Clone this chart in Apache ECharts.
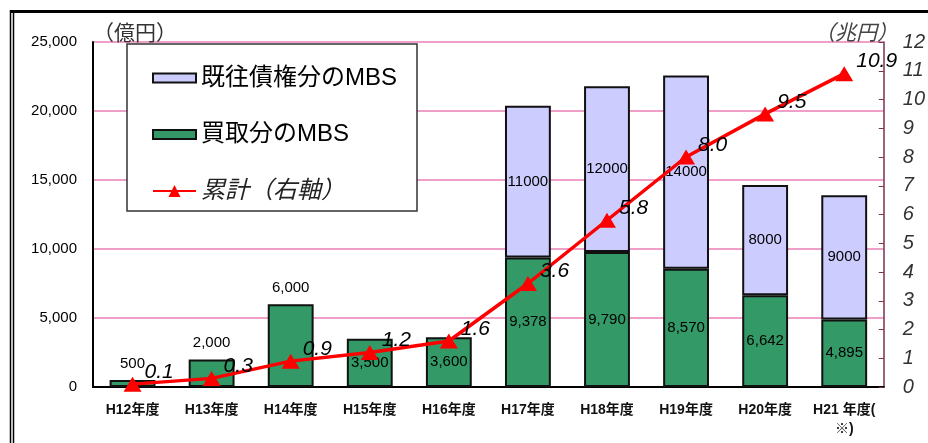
<!DOCTYPE html>
<html><head><meta charset="utf-8">
<script src="https://cdn.jsdelivr.net/npm/echarts@6/dist/echarts.min.js"></script>
<style>html,body{margin:0;padding:0;background:#fff}#c{width:928px;height:443px}</style>
</head><body><div id="c"></div>
<script>
const categories = ['H12年度','H13年度','H14年度','H15年度','H16年度','H17年度','H18年度','H19年度','H20年度','H21 年度(\n※)'];
const kaitori = [500, 2000, 6000, 3500, 3600, 9378, 9790, 8570, 6642, 4895];
const kiou = [0, 0, 0, 0, 0, 11000, 12000, 14000, 8000, 9000];
const ruikei = [0.1, 0.3, 0.9, 1.2, 1.6, 3.6, 5.8, 8.0, 9.5, 10.9];
const leftTicks = {min: 0, max: 25000, interval: 5000};
const rightTicks = {min: 0, max: 12, interval: 1};
const names = {kiou: '既往債権分のMBS', kaitori: '買取分のMBS', ruikei: '累計（右軸）'};

const FONT = "'Liberation Sans', 'Noto Sans CJK JP', sans-serif";
const chart = echarts.init(document.getElementById('c'));
const fmt = v => v.toLocaleString('en-US');

const kaitoriData = kaitori.map((v, i) => i < 3
  ? {value: v, label: {position: 'top', distance: 9}}
  : v);
const kiouData = kiou.map(v => v === 0 ? '-' : v);
const swatch = 'path://M0,0L43,0L43,9L0,9Z';

chart.setOption({
  animation: false,
  backgroundColor: '#fff',
  textStyle: {fontFamily: FONT},
  grid: {left: 93, right: 41, top: 42, bottom: 56},
  graphic: [
    {type: 'rect', z: 0, shape: {x: 10, y: 10, width: 918, height: 3}, style: {fill: '#000'}},
    {type: 'line', z: 0, shape: {x1: 10.5, y1: 10, x2: 10.5, y2: 443}, style: {stroke: '#000', lineWidth: 1.5}},
    {type: 'line', z: 0, shape: {x1: 13.5, y1: 13, x2: 13.5, y2: 443}, style: {stroke: '#000', lineWidth: 1.5}},
    {type: 'rect', z: 3, shape: {x: 127, y: 44, width: 290, height: 167}, style: {fill: '#fff', stroke: '#333', lineWidth: 1.5}},
    {type: 'text', z: 3, left: 93, top: 22, style: {text: '（億円）', fill: '#333', font: "21px 'Noto Sans CJK JP', sans-serif"}},
    {type: 'text', z: 3, left: 814, top: 22, style: {text: '（兆円）', fill: '#444', font: "italic 21px 'Noto Sans CJK JP', sans-serif"}}
  ],
  legend: {
    orient: 'vertical', left: 147, top: 59, z: 5,
    itemWidth: 43, itemHeight: 15, itemGap: 28.5,
    symbolKeepAspect: true,
    textStyle: {fontSize: 24, lineHeight: 28, color: '#000', fontFamily: FONT},
    data: [
      {name: names.kiou, icon: swatch},
      {name: names.kaitori, icon: swatch},
      {name: names.ruikei, textStyle: {fontStyle: 'italic', color: '#222'}}
    ]
  },
  xAxis: {
    type: 'category', data: categories,
    axisLine: {lineStyle: {color: '#000', width: 2}},
    axisTick: {show: false},
    axisLabel: {color: '#111', fontSize: 14, fontWeight: 'bold', margin: 14, interval: 0, lineHeight: 19}
  },
  yAxis: [
    {
      type: 'value', min: leftTicks.min, max: leftTicks.max, interval: leftTicks.interval,
      axisLine: {show: true, lineStyle: {color: '#000', width: 2}},
      axisTick: {show: false},
      axisLabel: {color: '#000', fontSize: 15, margin: 16, formatter: fmt},
      splitLine: {lineStyle: {color: '#f0a0c8', width: 2}}
    },
    {
      type: 'value', min: rightTicks.min, max: rightTicks.max, interval: rightTicks.interval,
      position: 'right',
      axisLine: {show: true, lineStyle: {color: '#7a3050', width: 1.5}},
      axisTick: {show: true, inside: true, length: 5, lineStyle: {color: '#7a3050'}},
      axisLabel: {color: '#333', fontSize: 20, fontStyle: 'italic', margin: 19},
      splitLine: {show: false}
    }
  ],
  series: [
    {
      name: names.kaitori, type: 'bar', stack: 'mbs', data: kaitoriData, barWidth: '58%',
      itemStyle: {color: '#339966', borderColor: '#111', borderWidth: 2},
      label: {show: true, position: 'inside', color: '#000', fontSize: 15, formatter: p => fmt(p.value)}
    },
    {
      name: names.kiou, type: 'bar', stack: 'mbs', data: kiouData, barWidth: '58%',
      itemStyle: {color: '#ccccff', borderColor: '#111', borderWidth: 2},
      label: {show: true, position: 'inside', color: '#000', fontSize: 15, formatter: p => String(p.value)}
    },
    {
      name: names.ruikei, type: 'line', yAxisIndex: 1, data: ruikei, z: 6,
      lineStyle: {color: '#ff0000', width: 3.5},
      itemStyle: {color: '#ff0000'},
      symbol: 'triangle', symbolSize: [18, 15],
      label: {show: true, position: 'right', distance: 3, offset: [0, -12], color: '#000',
        fontSize: 21, fontStyle: 'italic', formatter: p => p.value.toFixed(1)}
    }
  ]
});
</script></body></html>
